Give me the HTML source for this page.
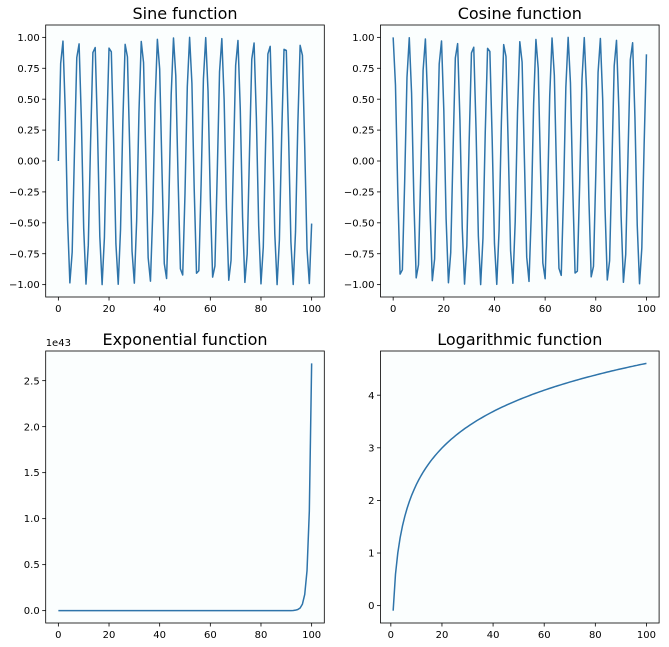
<!DOCTYPE html>
<html><head><meta charset="utf-8"><style>
html,body{margin:0;padding:0;background:#fff;}
svg{display:block;font-family:"DejaVu Sans","Liberation Sans",sans-serif;}
</style></head><body>
<svg id="fig" width="669" height="647" viewBox="0 0 669 647" xmlns="http://www.w3.org/2000/svg"></svg>
<script>
const xValues = [0,0.909,1.818,2.727,3.636,4.545,5.455,6.364,7.273,8.182,9.091,10,10.909,11.818,12.727,13.636,14.545,15.455,16.364,17.273,18.182,19.091,20,20.909,21.818,22.727,23.636,24.545,25.455,26.364,27.273,28.182,29.091,30,30.909,31.818,32.727,33.636,34.545,35.455,36.364,37.273,38.182,39.091,40,40.909,41.818,42.727,43.636,44.545,45.455,46.364,47.273,48.182,49.091,50,50.909,51.818,52.727,53.636,54.545,55.455,56.364,57.273,58.182,59.091,60,60.909,61.818,62.727,63.636,64.545,65.455,66.364,67.273,68.182,69.091,70,70.909,71.818,72.727,73.636,74.545,75.455,76.364,77.273,78.182,79.091,80,80.909,81.818,82.727,83.636,84.545,85.455,86.364,87.273,88.182,89.091,90,90.909,91.818,92.727,93.636,94.545,95.455,96.364,97.273,98.182,99.091,100];
const sineValues = [0,.789,.970,.403,-.475,-.986,-.737,.080,.836,.947,.327,-.544,-.996,-.680,.160,.877,.918,.250,-.610,-1.000,-.619,.239,.913,.883,.172,-.671,-.997,-.554,.316,.943,.842,.092,-.729,-.988,-.485,.392,.967,.796,.012,-.782,-.972,-.413,.464,.984,.745,-.069,-.829,-.950,-.339,.534,.995,.689,-.149,-.872,-.922,-.262,.600,1.000,.630,-.228,-.908,-.888,-.184,.663,.998,.565,-.306,-.939,-.849,-.104,.721,.990,.496,-.381,-.964,-.803,-.024,.774,.975,.424,-.454,-.982,-.753,.057,.823,.954,.349,-.524,-.994,-.697,.137,.866,.927,.273,-.590,-1.000,-.637,.216,.903,.894,.195,-.654,-.999,-.573,.294,.935,.855,.116,-.712,-.991,-.506];
const cosineValues = [1,.614,-.245,-.915,-.880,-.166,.676,.997,.549,-.322,-.945,-.839,-.086,.733,.987,.480,-.397,-.968,-.792,-.006,.785,.971,.408,-.469,-.985,-.742,.075,.833,.949,.333,-.540,-.996,-.685,.154,.874,.920,.256,-.606,-1.000,-.624,.233,.911,.886,.178,-.667,-.998,-.559,.311,.941,.845,.098,-.725,-.989,-.490,.386,.965,.800,.018,-.777,-.974,-.419,.460,.983,.749,-.063,-.825,-.952,-.344,.529,.995,.693,-.143,-.868,-.925,-.268,.596,1.000,.633,-.222,-.906,-.891,-.189,.658,.998,.569,-.300,-.937,-.852,-.110,.717,.991,.500,-.375,-.962,-.807,-.030,.770,.976,.430,-.448,-.981,-.757,.051,.819,.956,.356,-.518,-.993,-.702,.131,.863];
// exponential values in units of 1e43
const expValues = [0,0,0,0,0,0,0,0,0,0,0,0,0,0,0,0,0,0,0,0,0,0,0,0,0,0,0,0,0,0,0,0,0,0,0,0,0,0,0,0,0,0,0,0,0,0,0,0,0,0,0,0,0,0,0,0,0,0,0,0,0,0,0,0,0,0,0,0,0,0,0,0,0,0,0,0,0,0,0,0,0,0,0,0,0,0,0,0,0,0,0,0,0,0,0,0,0,0,0,0,0,0,.002,.005,.012,.029,.071,.176,.436,1.083,2.688];
const logValues = [null,-.095,.598,1.003,1.291,1.514,1.696,1.851,1.984,2.102,2.207,2.303,2.390,2.470,2.544,2.613,2.677,2.738,2.795,2.849,2.900,2.949,2.996,3.040,3.083,3.124,3.163,3.200,3.237,3.272,3.306,3.339,3.371,3.401,3.431,3.460,3.488,3.516,3.542,3.568,3.594,3.619,3.643,3.666,3.689,3.712,3.734,3.755,3.776,3.796,3.817,3.837,3.856,3.875,3.894,3.912,3.930,3.948,3.965,3.982,3.999,4.016,4.032,4.048,4.064,4.079,4.095,4.110,4.125,4.139,4.153,4.168,4.182,4.195,4.209,4.222,4.236,4.249,4.262,4.274,4.287,4.299,4.312,4.324,4.336,4.348,4.359,4.371,4.382,4.394,4.405,4.416,4.427,4.438,4.448,4.459,4.469,4.480,4.490,4.500,4.510,4.520,4.530,4.540,4.549,4.559,4.568,4.578,4.587,4.596,4.605];
const xTicks = [0,20,40,60,80,100];
const trigTicks = [-1,-0.75,-0.5,-0.25,0,0.25,0.5,0.75,1];
const trigTickLabels = ["\u22121.00","\u22120.75","\u22120.50","\u22120.25","0.00","0.25","0.50","0.75","1.00"];
const expTicks = [0,0.5,1,1.5,2,2.5];
const expTickLabels = ["0.0","0.5","1.0","1.5","2.0","2.5"];
const logTicks = [0,1,2,3,4];
const logTickLabels = ["0","1","2","3","4"];

const NS="http://www.w3.org/2000/svg";
const fig=document.getElementById('fig');
function mk(tag,attrs,parent){const e=document.createElementNS(NS,tag);for(const k in attrs)e.setAttribute(k,attrs[k]);(parent||fig).appendChild(e);return e;}

function panel(cfg){
  const g=mk('g',{});
  
  
  const L=cfg.x0,R=cfg.x1,T=cfg.y0,B=cfg.y1;
  const finite=cfg.ys.filter(v=>v!==null);
  let xs=cfg.xs.filter((v,i)=>cfg.ys[i]!==null);
  const xmn=Math.min(...xs),xmx=Math.max(...xs),ymn=Math.min(...finite),ymx=Math.max(...finite);
  const xl=xmn-(xmx-xmn)*0.05,xh=xmx+(xmx-xmn)*0.05,yl=ymn-(ymx-ymn)*0.05,yh=ymx+(ymx-ymn)*0.05;
  const sx=v=>L+(v-xl)/(xh-xl)*(R-L), sy=v=>B-(v-yl)/(yh-yl)*(B-T);
  const bg=mk('rect',{x:L,y:T,width:R-L,height:B-T,fill:'#fbfefe'},g);
  
  
  let d='';cfg.xs.forEach((x,i)=>{const y=cfg.ys[i];if(y===null)return;d+=(d?'L':'M')+sx(x).toFixed(2)+' '+sy(y).toFixed(2);});
  const line=mk('path',{d:d,fill:'none',stroke:'#2e74aa','stroke-width':1.5,'stroke-linejoin':'round'},g);
  
  
  const fr=mk('rect',{x:L,y:T,width:R-L,height:B-T,fill:'none',stroke:'#000','stroke-width':0.8},g);
  
  
  xTicks.forEach(t=>{const x=sx(t);mk('line',{x1:x,x2:x,y1:B,y2:B+3.5,stroke:'#000','stroke-width':0.8},g);
    const tx=mk('text',{x:x,y:B+15,'font-size':10,'text-anchor':'middle',fill:'#000'},g);tx.textContent=String(t);
    
    });
  cfg.yt.forEach((t,i)=>{const y=sy(t);mk('line',{x1:L-3.5,x2:L,y1:y,y2:y,stroke:'#000','stroke-width':0.8},g);
    const tx=mk('text',{x:L-6,y:y+3.6,'font-size':10,'text-anchor':'end',fill:'#000'},g);tx.textContent=cfg.ytl[i];
    
    });
  const ti=mk('text',{x:(L+R)/2,y:T-6,'font-size':16,'text-anchor':'middle',fill:'#000'},g);ti.textContent=cfg.title;
  
  
  if(cfg.offset){const o=mk('text',{x:L,y:T-5,'font-size':10,fill:'#000'},g);o.textContent=cfg.offset;
    
    }
}
panel({name:'sine-panel',title:'Sine function',x0:45.7,x1:324.3,y0:25,y1:297,xs:xValues,ys:sineValues,yt:trigTicks,ytl:trigTickLabels});
panel({name:'cosine-panel',title:'Cosine function',x0:380.5,x1:659.1,y0:25,y1:297,xs:xValues,ys:cosineValues,yt:trigTicks,ytl:trigTickLabels});
panel({name:'exponential-panel',title:'Exponential function',x0:45.7,x1:324.3,y0:351,y1:623,xs:xValues,ys:expValues,yt:expTicks,ytl:expTickLabels,offset:'1e43'});
panel({name:'logarithmic-panel',title:'Logarithmic function',x0:380.5,x1:659.1,y0:351,y1:623,xs:xValues,ys:logValues,yt:logTicks,ytl:logTickLabels});
</script>
</body></html>
